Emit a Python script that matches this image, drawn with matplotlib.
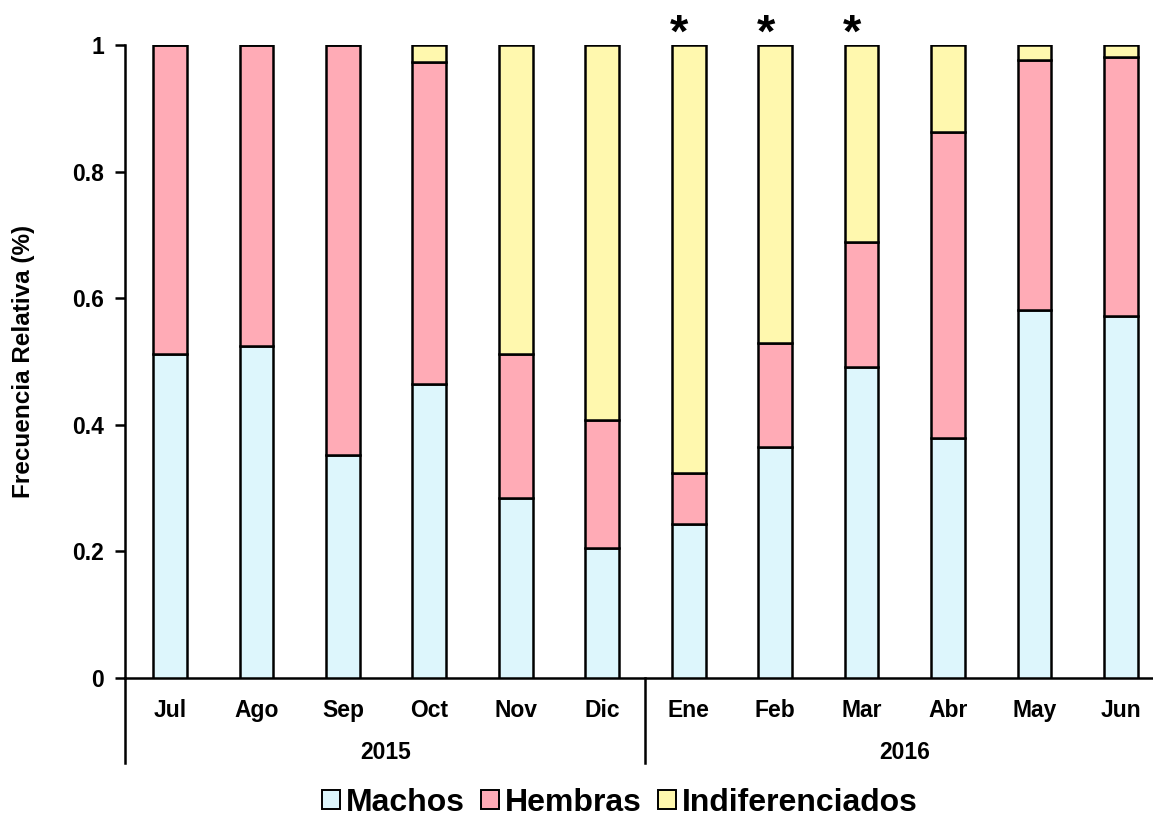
import matplotlib
matplotlib.use("Agg")
import matplotlib.pyplot as plt
import numpy as np
from matplotlib.patches import Patch

plt.rcParams["font.family"] = ["Liberation Sans", "DejaVu Sans"]
plt.rcParams["font.weight"] = "bold"

months = ["Jul", "Ago", "Sep", "Oct", "Nov", "Dic",
          "Ene", "Feb", "Mar", "Abr", "May", "Jun"]
years = ["2015", "2016"]
machos = [0.512, 0.524, 0.352, 0.464, 0.284, 0.205,
          0.243, 0.365, 0.491, 0.379, 0.581, 0.572]
hembras = [0.488, 0.476, 0.648, 0.509, 0.228, 0.203,
           0.081, 0.164, 0.198, 0.484, 0.395, 0.409]
indif = [0.0, 0.0, 0.0, 0.027, 0.488, 0.592,
         0.676, 0.471, 0.311, 0.137, 0.024, 0.019]
marked = ["Ene", "Feb", "Mar"]

c_machos = "#DDF6FC"
c_hembras = "#FFABB6"
c_indif = "#FFF8AE"

fig = plt.figure(figsize=(11.53, 8.16), dpi=100)
ax = fig.add_axes([125 / 1153, 1 - 678 / 816, 1 - 125 / 1153, (678 - 45) / 816])

x = np.arange(len(months))
w = 0.39
kw = dict(width=w, edgecolor="black", linewidth=1.8, zorder=3)
ax.bar(x, machos, color=c_machos, **kw)
ax.bar(x, hembras, bottom=machos, color=c_hembras, **kw)
bot = np.array(machos) + np.array(hembras)
ax.bar(x, indif, bottom=bot, color=c_indif, **kw)

for i, m in enumerate(months):
    if m in marked:
        ax.text(i - 0.11, 0.982, "*", ha="center", va="bottom", fontsize=34,
                fontweight="bold", clip_on=False)

ax.set_xlim(-0.52, 11.37)
ax.set_ylim(0, 1)
ax.set_yticks(np.arange(0, 1.01, 0.2))
ax.set_yticklabels(["0", "0.2", "0.4", "0.6", "0.8", "1"])
ax.tick_params(axis="y", direction="out", length=7, width=1.8, labelsize=16.5, pad=8)
ax.set_xticks(x)
ax.set_xticklabels(months)
ax.tick_params(axis="x", length=0, labelsize=16.5, pad=15)

for s in ["top", "right"]:
    ax.spines[s].set_visible(False)
for s in ["left", "bottom"]:
    ax.spines[s].set_linewidth(1.8)

ax.set_ylabel("Frecuencia Relativa (%)", fontsize=17.5, fontweight="bold", labelpad=27)

# year group separators and labels
trans = ax.get_xaxis_transform()
for xv in [-0.52, 5.5]:
    ax.plot([xv, xv], [0, -0.135], color="black", lw=1.8, transform=trans, clip_on=False)
ax.text(2.5, -0.118, years[0], transform=trans, ha="center", va="center", fontsize=16.5)
ax.text(8.5, -0.118, years[1], transform=trans, ha="center", va="center", fontsize=16.5)

handles = [Patch(facecolor=c, edgecolor="black", linewidth=1.4)
           for c in [c_machos, c_hembras, c_indif]]
fig.legend(handles, ["Machos", "Hembras", "Indiferenciados"], loc="center",
           bbox_to_anchor=(620 / 1153, 1 - 803 / 816), ncol=3, frameon=False,
           fontsize=23, handlelength=0.55, handleheight=0.55, handletextpad=0.2,
           columnspacing=0.5)

fig.savefig("out.png", dpi=100)
